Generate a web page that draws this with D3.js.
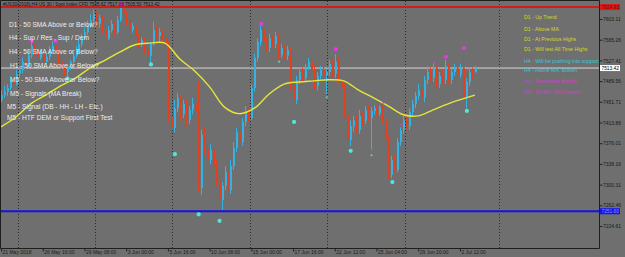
<!DOCTYPE html>
<html><head><meta charset="utf-8">
<script src="https://cdn.jsdelivr.net/npm/d3@7"></script>
<style>html,body{margin:0;padding:0;background:#6f6f6f;overflow:hidden}</style>
</head><body><svg id="c" width="625" height="257"></svg>
<script>
// ---- DATA ----
const title = "#US30(2018),H4  US 30 / Spot Index CFD  7505.62 7517.88 7505.50 7513.42";
const open = [7455,7464,7470,7477,7492,7484,7503,7510,7525,7517, 7537,7554,7543,7532,7539,7525,7534,7547,7554,7543,
 7525,7514,7506,7514,7525,7536,7547,7557,7568,7579, 7590,7601,7612,7594,7605,7583,7568,7583,7594,7579,
 7601,7623,7612,7598,7583,7590,7572,7557,7565,7547, 7536,7557,7583,7572,7579,7568,7557,7422,7404,7440,
 7459,7429,7448,7418,7437,7448,7433,7294,7391,7364, 7345,7364,7334,7305,7272,7298,7323,7290,7334,7367,
 7396,7378,7415,7433,7422,7477,7532,7561,7583,7561, 7550,7568,7557,7572,7537,7550,7536,7547,7481,7455,
 7492,7506,7495,7514,7525,7510,7481,7499,7510,7499, 7506,7521,7503,7525,7492,7477,7428,7382,7407,7418,
 7400,7426,7417,7437,7422,7435,7440,7431,7442,7418, 7382,7318,7345,7327,7378,7400,7418,7407,7433,7448,
 7462,7473,7459,7492,7506,7495,7514,7484,7499,7492, 7517,7492,7506,7514,7501,7514,7459,7488,7506,7505.62];
const high = [7473,7481,7484,7499,7495,7510,7517,7532,7528,7547, 7563,7557,7547,7547,7543,7539,7554,7563,7563,7547,
 7528,7519,7521,7528,7541,7554,7565,7576,7587,7600, 7612,7620,7616,7611,7609,7589,7590,7601,7598,7609,
 7633,7629,7616,7601,7596,7594,7576,7570,7568,7554, 7561,7598,7590,7587,7583,7576,7561,7433,7455,7468,
 7464,7455,7455,7444,7459,7455,7488,7400,7404,7373, 7374,7369,7345,7316,7305,7334,7331,7345,7378,7404,
 7404,7422,7444,7440,7484,7539,7568,7594,7587,7568, 7576,7574,7579,7576,7557,7556,7554,7550,7488,7499,
 7514,7514,7521,7532,7532,7517,7506,7517,7517,7512, 7528,7528,7539,7532,7499,7484,7437,7418,7426,7426,
 7437,7433,7444,7444,7442,7446,7444,7446,7446,7426, 7389,7353,7353,7385,7405,7426,7426,7440,7455,7470,
 7484,7481,7499,7517,7514,7521,7517,7506,7510,7528, 7521,7514,7521,7521,7521,7543,7495,7514,7514,7517.88];
const low = [7450,7459,7462,7473,7477,7481,7495,7504,7510,7514, 7532,7536,7525,7528,7517,7521,7528,7543,7537,7517,
 7506,7499,7497,7510,7521,7532,7541,7552,7565,7574, 7587,7594,7589,7587,7578,7561,7565,7578,7574,7576,
 7598,7605,7592,7576,7578,7565,7550,7552,7539,7521, 7523,7554,7565,7561,7557,7550,7415,7393,7396,7433,
 7418,7422,7407,7411,7429,7422,7287,7281,7354,7334, 7338,7323,7298,7250,7254,7290,7279,7283,7327,7360,
 7371,7371,7407,7415,7418,7470,7525,7554,7554,7543, 7543,7550,7550,7528,7532,7528,7528,7473,7422,7448,
 7484,7488,7488,7510,7503,7473,7473,7492,7492,7466, 7499,7495,7495,7484,7470,7422,7374,7371,7396,7393,
 7393,7407,7411,7415,7364,7428,7424,7426,7411,7371, 7309,7312,7320,7323,7371,7393,7400,7400,7426,7440,
 7455,7451,7451,7484,7488,7488,7477,7477,7484,7484, 7484,7484,7499,7493,7495,7451,7440,7481,7492,7505.50];
const close = [7464,7470,7477,7492,7484,7503,7510,7525,7517,7537, 7554,7543,7532,7539,7525,7534,7547,7554,7543,7525,
 7514,7506,7514,7525,7536,7547,7557,7568,7579,7590, 7601,7612,7594,7605,7583,7568,7583,7594,7579,7601,
 7623,7612,7598,7583,7590,7572,7557,7565,7547,7536, 7557,7583,7572,7579,7568,7557,7422,7404,7440,7459,
 7429,7448,7418,7437,7448,7433,7294,7391,7364,7345, 7364,7334,7305,7272,7298,7323,7290,7334,7367,7396,
 7378,7415,7433,7422,7477,7532,7561,7583,7561,7550, 7568,7557,7572,7537,7550,7536,7547,7481,7455,7492,
 7506,7495,7514,7525,7510,7481,7499,7510,7499,7506, 7521,7503,7525,7492,7477,7428,7382,7407,7418,7400,
 7426,7417,7437,7422,7435,7440,7431,7442,7418,7382, 7318,7345,7327,7378,7400,7418,7407,7433,7448,7462,
 7473,7459,7492,7506,7495,7514,7484,7499,7492,7517, 7492,7506,7514,7501,7514,7459,7488,7506,7499,7513.42];

// 50 SMA (read at every 5th bar)
const maBars = [0,5,10,15,20,25,30,35,40,45,50,55,60,65,70,75,80,85,90,95,100,105,110,115,120,125,130,135,140,145,150,155,159];
const maValues = [7406,7424,7448,7464,7481,7495,7514,7528,7543,7556,7559,7559,7530,7508,7479,7442,7430,7440,7466,7484,7488,7490,7492,7490,7473,7459,7444,7428,7426,7437,7448,7457,7464];

// signal markers [bar, price]
const topMajor = [[10,7563],[18,7563],[40,7631],[87,7594],[112,7548],[149,7534],[155,7550]];
const topMinor = [[145,7523],[128,7450],[134,7410]];
const bottomMajor = [[22,7494],[50,7520],[58,7356],[66,7246],[73,7234],[98,7415],[117,7362],[131,7305],[156,7435]];
const bottomMinor = [[93,7525],[109,7460],[124,7354]];

// horizontal levels
const resistance = 7624.93, lastPrice = 7513.42, support = 7251.60;

// axes
const yTicks = [7603.11,7565.26,7527.41,7489.56,7451.71,7413.86,7376.01,7338.16,7300.31,7262.46,7224.61];
const xTickBars = [0,14,28,42,56,70,84,98,112,126,140,154];
const xTickLabels = ["21 May 2018","26 May 16:00","29 May 08:00","3 Jun 00:00","5 Jun 16:00","10 Jun 08:00","15 Jun 00:00","17 Jun 16:00","22 Jun 12:00","25 Jun 04:00","29 Jun 20:00","2 Jul 12:00"];
const separatorBars = [5.7,31.5,57.4,83.6,109.4,135.6,167];

// text objects
const checklist = ["D1 - 50 SMA Above or Below?","H4 - Sup / Res , Sup / Dem","H4 - 50 SMA Above or Below?","H1 - 50 SMA Above or Below?","M5 - 50 SMA Above or Below?","M5 - Signals (MA Break)","M5 - Signal (DB - HH - LH - Etc.)","M5 - HTF DEM or Support First Test"];
const notes = ["D1 - Up Trend","D1 - Above MA","D1 - At Previous Highs","D1 - Will test All Time Highs","H4 - Will be pushing into support","H4 - Above MA, Bullish","H1 - Somewhat Bullish","M5 - Bullish, Still bearish"];
const noteFrames = ["D1","D1","D1","D1","H4","H4","H1","M5"];

// ---- DRAW ----
const W=625,H=257, plotR=599.5, plotB=248.5;
const svg=d3.select("#c");
svg.append("rect").attr("width",W).attr("height",H).attr("fill","#6f6f6f");
const x=d3.scaleLinear().domain([0,201]).range([1,600]);
const y=d3.scaleLinear().domain([7224.61,7603.11]).range([226,19]);

svg.append("clipPath").attr("id","pc").append("rect").attr("x",1).attr("y",1).attr("width",598).attr("height",247);
const P=svg.append("g").attr("clip-path","url(#pc)");

// separators
P.selectAll("line.sep").data(separatorBars).join("line").attr("class","sep")
 .attr("x1",d=>Math.round(x(d))+0.5).attr("x2",d=>Math.round(x(d))+0.5).attr("y1",1).attr("y2",plotB)
 .attr("stroke","#2c2c2c").attr("stroke-width",1).attr("stroke-dasharray","1,2");

// level lines
P.append("line").attr("x1",0).attr("x2",plotR).attr("y1",y(lastPrice)).attr("y2",y(lastPrice)).attr("stroke","#d8d8d8").attr("stroke-width",1);

// candles
const bars=d3.range(open.length);
const up="#33b3e3", dn="#e2411f";
const cg=P.append("g");
cg.selectAll("line.w").data(bars).join("line").attr("class","w")
 .attr("x1",i=>Math.round(x(i))+0.5).attr("x2",i=>Math.round(x(i))+0.5)
 .attr("y1",i=>y(high[i])).attr("y2",i=>y(low[i]))
 .attr("stroke",i=>close[i]>=open[i]?up:dn).attr("stroke-width",1);
cg.selectAll("rect.b").data(bars).join("rect").attr("class","b")
 .attr("x",i=>Math.round(x(i))).attr("width",2)
 .attr("y",i=>y(Math.max(open[i],close[i])))
 .attr("height",i=>Math.max(1,Math.abs(y(open[i])-y(close[i]))))
 .attr("fill",i=>close[i]>=open[i]?up:dn);

// MA
P.append("path").datum(maBars.map((b,k)=>[b,maValues[k]]))
 .attr("d",d3.line().x(d=>x(d[0])).y(d=>y(d[1])).curve(d3.curveCatmullRom))
 .attr("fill","none").attr("stroke","#e6e63a").attr("stroke-width",1.4);

// red & blue levels
P.append("line").attr("x1",0).attr("x2",plotR).attr("y1",y(resistance)).attr("y2",y(resistance)).attr("stroke","#d21c1c").attr("stroke-width",2);
P.append("line").attr("x1",0).attr("x2",plotR).attr("y1",y(support)).attr("y2",y(support)).attr("stroke","#1212e6").attr("stroke-width",2);

// markers
function dots(arr,col,r){P.append("g").selectAll("circle").data(arr).join("circle")
 .attr("cx",d=>x(d[0])+1).attr("cy",d=>y(d[1])).attr("r",r).attr("fill",col);}
dots(topMajor,"#e23ae2",2.1); dots(topMinor,"#d040d0",1.1);
dots(bottomMajor,"#4fe6dc",2.1); dots(bottomMinor,"#4fd6cc",1.1);

// texts
const font="'Liberation Sans', Arial, sans-serif";
const clX=[9,9,9,10,10,10,7,7], clY=[25,38,52,66,80,94,107,118];
P.selectAll("text.cl").data(checklist).join("text").attr("class","cl")
 .attr("x",(d,i)=>clX[i]).attr("y",(d,i)=>clY[i]).attr("dy","0.35em")
 .attr("font-family",font).attr("font-size",6.6).attr("fill","#ececec").text(d=>d);
const frameCol={D1:"#d6d62a",H4:"#34c8d8",H1:"#d23cd2",M5:"#d23cd2"};
const nY=[17,29,39,49,61,70,81,92];
P.selectAll("text.nt").data(notes).join("text").attr("class","nt")
 .attr("x",524).attr("y",(d,i)=>nY[i]).attr("dy","0.35em")
 .attr("font-family",font).attr("font-size",5.2).attr("fill",(d,i)=>frameCol[noteFrames[i]]).text(d=>d);

// frame
svg.append("path").attr("d",`M0.5,0.5H${plotR}V${plotB}H0.5Z`).attr("fill","none").attr("stroke","#1e1e1e").attr("stroke-width",1);

// title
svg.append("text").attr("x",3).attr("y",5.5).attr("font-family",font).attr("font-size",4.6).attr("fill","#111").text(title);

// axes
const ya=svg.append("g").attr("transform",`translate(${plotR},0)`)
 .call(d3.axisRight(y).tickValues(yTicks).tickFormat(d3.format(".2f")).tickSize(3).tickSizeOuter(0));
ya.select(".domain").remove();
ya.selectAll("line").attr("stroke","#222");
ya.selectAll("text").attr("x",3.5).attr("font-family",font).attr("font-size",5).attr("fill","#1a1a1a");

const xa=svg.append("g").attr("transform",`translate(0,${plotB})`)
 .call(d3.axisBottom(x).tickValues(xTickBars).tickFormat((d,i)=>xTickLabels[i]).tickSize(3).tickSizeOuter(0));
xa.select(".domain").remove();
xa.selectAll("line").attr("stroke","#222");
xa.selectAll("text").attr("text-anchor","start").attr("x",1).attr("y",2).attr("dy","0.71em")
 .attr("font-family",font).attr("font-size",5).attr("fill","#1a1a1a");

// price labels
function tag(v,bg,fg){
 const g=svg.append("g");
 g.append("rect").attr("x",plotR+0.5).attr("y",y(v)-3).attr("width",20).attr("height",6).attr("fill",bg);
 g.append("text").attr("x",plotR+2).attr("y",y(v)).attr("dy","0.35em").attr("font-family",font).attr("font-size",4.8).attr("fill",fg).text(v.toFixed(2));
}
tag(resistance,"#e01818","#6a0a0a");
tag(lastPrice,"#ffffff","#000000");
tag(support,"#1414ee","#9090ff");
</script></body></html>
